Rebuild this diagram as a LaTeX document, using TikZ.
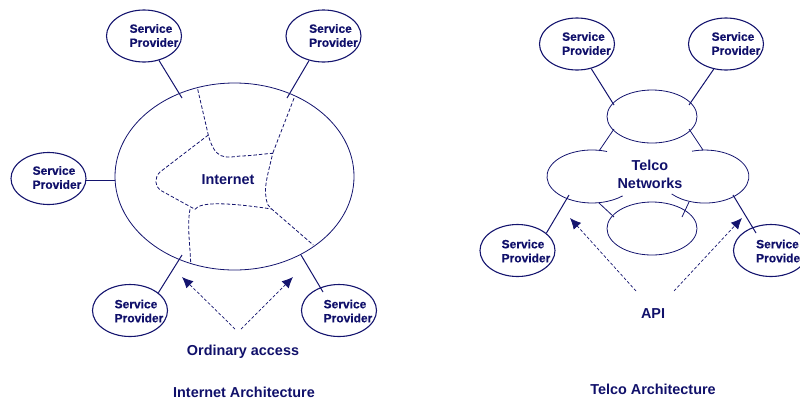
\documentclass[tikz,border=0pt]{standalone}
\usepackage{fontspec}
\setmainfont{Liberation Sans}
\newfontfamily\spfont[FakeBold=0.5]{Liberation Sans}
\usetikzlibrary{arrows.meta,shapes.geometric}
\definecolor{ink}{HTML}{14146E}
\definecolor{txt}{HTML}{10106A}
\tikzset{
  x=1pt,y=-1pt,
  spbox/.style={draw=ink,line width=1.1pt,ellipse,minimum width=75pt,minimum height=52pt,inner sep=0pt},
  splabel/.style={text=txt,font=\spfont\bfseries\fontsize{12}{14}\selectfont,align=left,inner sep=0pt},
  biglabel/.style={text=txt,font=\bfseries\fontsize{14.4}{18}\selectfont,align=center,inner sep=0pt},
  thin line/.style={draw=ink,line width=0.8pt},
  link/.style={draw=ink,line width=1pt},
  route/.style={draw=ink,line width=0.8pt,dash pattern=on 3.5pt off 2pt},
  pointer/.style={draw=ink,line width=0.7pt,dash pattern=on 3pt off 2pt,-{Latex[length=11pt,width=10pt,fill=ink]}},
  cloud part/.style={draw=ink,line width=0.8pt,ellipse,minimum width=90pt,minimum height=53pt,inner sep=0pt}
}
\begin{document}
\begin{tikzpicture}
\useasboundingbox (0,0) rectangle (800,400);
% Internet side
\node[draw=ink,line width=0.8pt,ellipse,minimum width=239pt,minimum height=187pt,inner sep=0pt] (net) at (234.5,176.5) {};
\node[biglabel] (netl) at (228,180) {Internet};
\node[spbox] (a1) at (144,36) {};
\node[spbox] (a2) at (323.5,36) {};
\node[spbox] (a3) at (48.5,178.5) {};
\node[spbox] (a4) at (130,310.5) {};
\node[spbox] (a5) at (339,310.5) {};
\node[splabel] (a1l) at (154,35.5) {Service\\Provider};
\node[splabel] (a2l) at (333.5,35.5) {Service\\Provider};
\node[splabel] (a3l) at (57,177.5) {Service\\Provider};
\node[splabel] (a4l) at (139,311) {Service\\Provider};
\node[splabel] (a5l) at (348,311) {Service\\Provider};
\coordinate (e1) at (182,98);
\coordinate (e2) at (287,98);
\coordinate (e3) at (115,180);
\coordinate (s3) at (86,180);
\coordinate (e4) at (182,255);
\coordinate (s5) at (301,255);
\coordinate (e5) at (323,292);
\draw[link] (a1) -- (e1);
\draw[link] (a2) -- (e2);
\draw[link] (s3) -- (e3);
\draw[link] (a4.32) -- (e4);
\draw[link] (s5) -- (e5);
% routes
\coordinate (r1) at (197.7,89.3);
\coordinate (r2) at (208.3,135);
\coordinate (r3) at (272.7,153.3);
\coordinate (r4) at (294,98.3);
\coordinate (r5) at (271.7,209);
\coordinate (r8) at (190,209.3);
\coordinate (r9) at (190.7,262.7);
\coordinate (r10) at (313.3,245);
\coordinate (r11) at (195,209.3);
\draw[route] (r1) -- (r2) .. controls (215,160) and (225,158) .. (240,156) .. controls (250,156) and (262,154) .. (r3)
  .. controls (268,175) and (262,190) .. (268,205) -- (r5) -- (r10);
\draw[route] (r4) -- (r3);
\draw[route] (r2) -- (160,172) .. controls (154,178) and (155,186) .. (160,190) -- (r11);
\draw[route] (r8) .. controls (187,225) and (190,245) .. (r9);
\draw[route] (r11) .. controls (200,202) and (225,202) .. (r5);
\coordinate (p0a) at (235,329);
\coordinate (p0b) at (241,329);
\coordinate (p1) at (182,277);
\coordinate (p2) at (293,277);
\draw[pointer] (p0a) -- (p1);
\draw[pointer] (p0b) -- (p2);
\node[biglabel] (oa) at (243,352) {Ordinary access};
\node[biglabel] (ia) at (244,392) {Internet Architecture};
% Telco side
\node[cloud part] (top) at (652,116.5) {};
\node[cloud part] (bot) at (652,228.5) {};
\draw[thin line] (607,151.5) arc[start angle=-70.5,end angle=-313,x radius=45,y radius=26.5];
\draw[thin line] (692,151.2) arc[start angle=-107,end angle=139,x radius=44,y radius=26.5];
\node[biglabel] (tn) at (650,174) {Telco\\Networks};
\node[spbox] (b1) at (577,44) {};
\node[spbox] (b2) at (726,44) {};
\node[spbox] (b3) at (517.5,250.5) {};
\node[spbox] (b4) at (771,250.5) {};
\node[splabel] (b1l) at (586.5,43.5) {Service\\Provider};
\node[splabel] (b2l) at (736,43.5) {Service\\Provider};
\node[splabel] (b3l) at (526,251) {Service\\Provider};
\node[splabel] (b4l) at (780.5,251) {Service\\Provider};
\coordinate (t1) at (614,105);
\coordinate (t2) at (689,105);
\coordinate (t3) at (569,195);
\coordinate (t4a) at (733,195);
\coordinate (t4b) at (756,233);
\draw[link] (b1.-60) -- (t1);
\draw[link] (b2.-116) -- (t2);
\draw[link] (b3.31) -- (t3);
\draw[link] (t4a) -- (t4b);
\coordinate (u1) at (614,129);
\coordinate (u2) at (599,151);
\coordinate (u3) at (689,129);
\coordinate (u4) at (703,150);
\coordinate (u5) at (599,203);
\coordinate (u6) at (614,217);
\coordinate (u7) at (689,202);
\coordinate (u8) at (682,217);
\draw[thin line] (u1) -- (u2);
\draw[thin line] (u3) -- (u4);
\draw[thin line] (u5) -- (u6);
\draw[thin line] (u7) -- (u8);
\coordinate (q0a) at (636,291);
\coordinate (q0b) at (674,291);
\coordinate (q1) at (570,218);
\coordinate (q2) at (742,218);
\draw[pointer] (q0a) -- (q1);
\draw[pointer] (q0b) -- (q2);
\node[biglabel] (api) at (653,313.5) {API};
\node[biglabel] (ta) at (653,389) {Telco Architecture};
\end{tikzpicture}
\end{document}
